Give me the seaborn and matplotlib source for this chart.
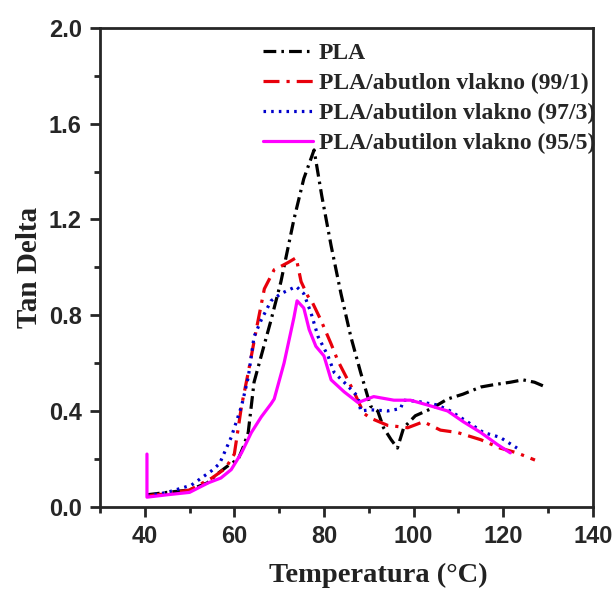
"""Tan delta vs temperature for PLA and PLA/abutilon fibre composites (DMA)."""

import matplotlib

matplotlib.use("Agg")
import matplotlib.pyplot as plt
import pandas as pd
import seaborn as sns
from matplotlib.ticker import MultipleLocator

# ---------------------------------------------------------------------------
# Data
# ---------------------------------------------------------------------------
pla_t = [40.5, 45, 50, 54, 56.4, 58.5, 60.9, 62, 63.1, 64.4, 66, 68.2, 70.4,
         73.3, 75.5, 77.8, 79.5, 81.6, 83.8, 86, 88.2, 90.4, 92, 93.3, 95,
         96.4, 97.8, 100.4, 104, 107.6, 111, 115, 118, 121.6, 124.4, 127, 129.5]
pla_tan = [0.05, 0.06, 0.07, 0.1, 0.14, 0.17, 0.2, 0.25, 0.31, 0.52, 0.63,
           0.78, 0.94, 1.2, 1.37, 1.49, 1.3, 1.09, 0.89, 0.71, 0.56, 0.42,
           0.4, 0.33, 0.28, 0.245, 0.33, 0.38, 0.41, 0.45, 0.47, 0.5, 0.51,
           0.52, 0.53, 0.52, 0.5]

r99_t = [40.5, 45, 50, 55, 58, 60, 61.6, 63.1, 64.9, 66.7, 68.9, 70, 72,
         73.8, 74.9, 76.4, 77.5, 79.3, 81.6, 83.1, 85.3, 86.7, 88.9, 90.4,
         94.2, 98.7, 102.2, 106, 109.8, 115, 119.3, 123.1, 127.1]
r99_tan = [0.045, 0.055, 0.07, 0.12, 0.16, 0.22, 0.42, 0.56, 0.74, 0.91,
           0.99, 1.0, 1.02, 1.04, 0.94, 0.88, 0.85, 0.78, 0.68, 0.61, 0.53,
           0.48, 0.39, 0.37, 0.34, 0.33, 0.355, 0.32, 0.31, 0.28, 0.245,
           0.225, 0.195]

r97_t = [40.5, 45, 50.4, 54.9, 56.7, 59.3, 61.6, 63.1, 64.4, 66, 68.2,
         70.4, 73.8, 75.5, 77.1, 78.7, 80.9, 82.3, 84.5, 87.6, 88.2, 90.4,
         94.2, 97.1, 97.8, 100.9, 105.3, 108.2, 112, 115.6, 119.3, 123.1]
r97_tan = [0.045, 0.06, 0.09, 0.15, 0.18, 0.29, 0.42, 0.54, 0.71, 0.78,
           0.86, 0.89, 0.92, 0.89, 0.81, 0.71, 0.63, 0.56, 0.52, 0.46, 0.4,
           0.405, 0.4, 0.41, 0.445, 0.44, 0.425, 0.4, 0.355, 0.31, 0.29,
           0.245]

r95_t = [40.5, 40.5, 45, 50, 54.2, 57, 59.3, 61.6, 63.8, 66, 68.2, 68.9,
         71.1, 73.3, 74, 75.5, 76.7, 78.2, 80, 81.6, 84.5, 87.6, 91.1, 95.6,
         99.3, 103.1, 107.6, 111.1, 115, 118.7, 121.6]
r95_tan = [0.22, 0.04, 0.05, 0.06, 0.1, 0.12, 0.155, 0.225, 0.31, 0.375,
           0.43, 0.45, 0.6, 0.79, 0.86, 0.83, 0.74, 0.67, 0.63, 0.53, 0.48,
           0.435, 0.46, 0.445, 0.445, 0.425, 0.4, 0.355, 0.31, 0.26, 0.225]

LABELS = ["PLA",
          "PLA/abutlon vlakno (99/1)",
          "PLA/abutilon vlakno (97/3)",
          "PLA/abutilon vlakno (95/5)"]

SERIES = [
    (pla_t, pla_tan, "black", (0, (4, 1.6, 0.8, 1.6))),
    (r99_t, r99_tan, "#e8000b", (0, (5, 2.2, 1, 2.2))),
    (r97_t, r97_tan, "#0000cc", (0, (0.8, 1.6))),
    (r95_t, r95_tan, "#ff00ff", "-"),
]

# ---------------------------------------------------------------------------
# Plot
# ---------------------------------------------------------------------------
sns.set_theme(style="ticks")
plt.rcParams["font.family"] = ["Liberation Sans", "DejaVu Sans"]

fig = plt.figure(figsize=(6.13, 5.92), dpi=100)
ax = fig.add_axes([0.163, 0.144, 0.804, 0.809])

for (t, tan, color, ls), label in zip(SERIES, LABELS):
    df = pd.DataFrame({"T": t, "tan": tan})
    sns.lineplot(data=df, x="T", y="tan", ax=ax, color=color, linestyle=ls,
                 linewidth=2.3, estimator=None, sort=False, label=label)

ax.set_xlim(30, 140)
ax.set_ylim(0, 2.0)
ax.xaxis.set_major_locator(MultipleLocator(20))
ax.xaxis.set_minor_locator(MultipleLocator(10))
ax.yaxis.set_major_locator(MultipleLocator(0.4))
ax.yaxis.set_minor_locator(MultipleLocator(0.2))
ax.tick_params(which="major", length=7, width=2, labelsize=17, pad=6)
ax.tick_params(which="minor", length=4.5, width=2)
for lab in ax.get_xticklabels() + ax.get_yticklabels():
    lab.set_fontweight("bold")
for sp in ax.spines.values():
    sp.set_linewidth(2)

serif = ["Liberation Serif", "DejaVu Serif"]
ax.set_xlabel("Temperatura (°C)", family=serif, fontweight="bold",
              fontsize=20.5, color="#222222")
ax.xaxis.set_label_coords(0.564, -0.118)
ax.set_ylabel("Tan Delta", family=serif, fontweight="bold",
              fontsize=21, color="#222222")
ax.yaxis.set_label_coords(-0.115, 0.5)

ax.legend(loc="upper left", bbox_to_anchor=(0.293, 1.008), frameon=False,
          handlelength=2.1, handletextpad=0.25, labelspacing=0.36,
          borderpad=0.3,
          prop={"family": serif, "weight": "bold", "size": 17})

fig.savefig("out.png", dpi=100)
